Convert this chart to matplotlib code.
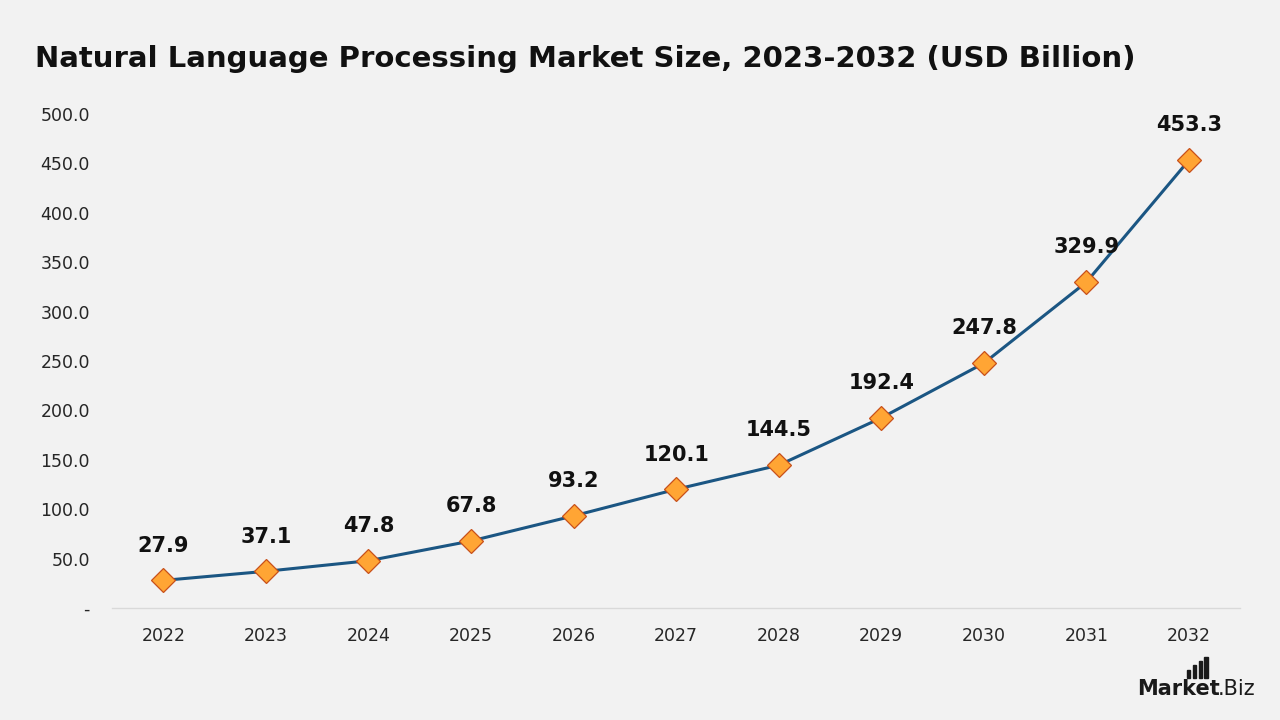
import matplotlib.pyplot as plt
from matplotlib.patches import Rectangle

years = ["2022", "2023", "2024", "2025", "2026", "2027", "2028", "2029", "2030", "2031", "2032"]
market_size = [27.9, 37.1, 47.8, 67.8, 93.2, 120.1, 144.5, 192.4, 247.8, 329.9, 453.3]
y_ticks = [0, 50, 100, 150, 200, 250, 300, 350, 400, 450, 500]

bg = "#f2f2f2"
plt.rcParams["font.family"] = ["DejaVu Sans"]

fig = plt.figure(figsize=(12.8, 7.2), dpi=100, facecolor=bg)
ax = fig.add_axes([0.0875, 0.1556, 0.8815, 0.6861])
ax.set_facecolor(bg)

x = list(range(len(years)))
ax.plot(x, market_size, color="#1b5683", linewidth=2.2, marker="D",
        markersize=12, markerfacecolor="#ffa534", markeredgecolor="#c8501a",
        markeredgewidth=0.9, zorder=3)

for xi, v in zip(x, market_size):
    ax.annotate(f"{v:.1f}", (xi, v), xytext=(0, 25), textcoords="offset points",
                ha="center", va="center", fontsize=15, fontweight="bold", color="#111111")

ax.set_xlim(-0.5, len(years) - 0.5)
ax.set_ylim(0, 500)
ax.set_xticks(x)
ax.set_xticklabels(years)
ax.set_yticks(y_ticks)
ax.set_yticklabels([f"{t:.1f}" if t else "-" for t in y_ticks])
ax.tick_params(axis="both", length=0, labelsize=12.5, colors="#262626")
ax.tick_params(axis="x", pad=14)
ax.tick_params(axis="y", pad=16)

for side in ["top", "right", "left"]:
    ax.spines[side].set_visible(False)
ax.spines["bottom"].set_color("#d9d9d9")
ax.spines["bottom"].set_linewidth(1)

fig.text(0.027, 0.918, "Natural Language Processing Market Size, 2023-2032 (USD Billion)",
         fontsize=21, fontweight="bold", color="#111111", ha="left", va="center")

# logo
fig.text(0.9805, 0.035, ".Biz", fontsize=15, color="#1a1a1a", ha="right", va="baseline")
fig.text(0.953, 0.035, "Market", fontsize=15, fontweight="bold", color="#1a1a1a", ha="right", va="baseline")
for i, h in enumerate([0.012, 0.018, 0.024, 0.030]):
    fig.patches.append(Rectangle((0.9275 + i * 0.0045, 0.058), 0.0025, h,
                                 transform=fig.transFigure, color="#1a1a1a"))

fig.savefig("out.png", dpi=100, facecolor=bg)
